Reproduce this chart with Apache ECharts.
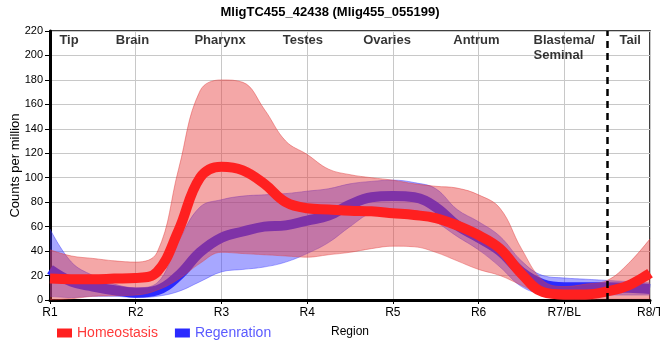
<!DOCTYPE html>
<html><head><meta charset="utf-8">
<script src="https://cdn.jsdelivr.net/npm/echarts@6/dist/echarts.min.js"></script>
<style>html,body{margin:0;padding:0;background:#fff}#c{width:660px;height:360px}</style>
</head><body><div id="c"></div>
<script>
// ---- data ----
const categories = ['R1','R2','R3','R4','R5','R6','R7/BL','R8/T'];
// values read at quarter steps along the region axis (R1 .. R8/T)
const samplePos = ['1','1.25','1.5','1.75','2','2.25','2.5','2.75','3','3.25','3.5','3.75','4','4.25','4.5','4.75',
                   '5','5.25','5.5','5.75','6','6.25','6.5','6.75','7','7.25','7.5','7.75','8'];
const homeoMean  = [17.5,17,17,17.5,18,23,57,100,109,106,95,80,75,74,73,72.5,71,69.5,67,61,53,42,21.5,6.5,4.5,4.5,7,12,22];
const homeoUpper = [41,36,34,32,31,39,107,171,180,178,156,130,119,107,102.5,100,98,95,93,91.5,86,75,42,16,11,13,16,30,50];
const homeoLower = [0,1,3,3.5,4,8,17,30,39,38,37,36,35,37,39,42,44,43.5,39,32,25,20,12,4,0.5,0.5,1,1,1];
const regenMean  = [25,15,11,8,6,8,20,39,51,56,60,61,65,69,78,84,85,84,76,61,51,40,23,13,10.5,10.5,10.5,10,9];
const regenUpper = [58,31,20,13,10,14,48,76,82,85,86,87,89,91,95,97,98,96,91,74,64,52,32,20,18,17,16,15,14];
const regenLower = [3,2,3,3,2,3,7,15,23,25,27,31,38,47,60,71,73,73,64,52,41,27,11,5,4,4,4,4,4];
const regionNames = ['Tip','Brain','Pharynx','Testes','Ovaries','Antrum','Blastema/\nSeminal','Tail'];
const yTicks = {min:0, max:220, step:20};
const boundaryAt = 7.5; // dashed divider between R7/BL and R8/T

// ---- layout (label anchors in region-axis units) ----
const regionLabelX = [1.228,1.968,2.990,3.957,4.938,5.980,6.647,7.775];
const regionLabelAlign = ['center','center','center','center','center','center','left','center'];

const FONT = 'Liberation Sans, Arial, sans-serif';
const diff = (a,b) => a.map((v,i)=>+(v-b[i]).toFixed(3));
const SM = 0.4;

const chart = echarts.init(document.getElementById('c'), null, {renderer:'canvas'});
chart.setOption({
  animation:false,
  textStyle:{fontFamily:FONT},
  title:{text:'MligTC455_42438 (Mlig455_055199)', left:'center', top:1,
    textStyle:{fontSize:13, fontWeight:'bold', color:'#000', fontFamily:FONT}},
  legend:{left:52, top:321, icon:'rect', itemWidth:15, itemHeight:9, itemGap:17,
    textStyle:{fontSize:14, fontFamily:FONT},
    data:[{name:'Homeostasis', textStyle:{color:'#ff3a3a'}},
          {name:'Regenration', textStyle:{color:'#5a5aff'}}]},
  grid:{left:50, right:10, top:31, bottom:60, containLabel:false, outerBoundsMode:'none',
    show:true, borderColor:'#000', borderWidth:1.5, backgroundColor:'#fff'},
  xAxis:[{type:'value', min:1, max:8, interval:1,
    axisLine:{show:true, onZero:false, lineStyle:{color:'#000', width:3}},
    axisTick:{show:true, length:4, lineStyle:{color:'#000', width:1}},
    axisLabel:{formatter:v=>categories[Math.round(v)-1]||'', color:'#000', fontSize:12, margin:7, fontFamily:FONT},
    splitLine:{show:true, lineStyle:{color:'#c8c8c8', width:1}},
    name:'Region', nameLocation:'middle', nameGap:26, nameMoveOverlap:false,
    nameTextStyle:{color:'#000', fontSize:12, fontFamily:FONT}},
   {type:'category', data:samplePos, boundaryGap:false, show:false, position:'bottom'}],
  yAxis:{type:'value', min:yTicks.min, max:yTicks.max, interval:yTicks.step,
    axisLine:{show:true, lineStyle:{color:'#000', width:3}},
    axisTick:{show:true, length:5, lineStyle:{color:'#000', width:1}},
    axisLabel:{color:'#000', fontSize:11, margin:7, fontFamily:FONT},
    splitLine:{show:true, lineStyle:{color:'#c8c8c8', width:1}},
    name:'Counts per million', nameLocation:'middle', nameGap:28, nameMoveOverlap:false,
    nameTextStyle:{color:'#000', fontSize:13, fontFamily:FONT}},
  series:[
    {name:'regenLow', type:'line', z:1, xAxisIndex:1, stack:'regen', data:regenLower, symbol:'none', smooth:SM, silent:true,
      lineStyle:{color:'rgba(60,60,255,0.4)', width:1}},
    {name:'regenBand', type:'line', z:1, xAxisIndex:1, stack:'regen', data:diff(regenUpper,regenLower), symbol:'none', smooth:SM, silent:true,
      lineStyle:{color:'rgba(60,60,255,0.45)', width:1}, areaStyle:{color:'rgba(60,60,255,0.45)', opacity:1}},
    {name:'Regenration', type:'line', z:2, xAxisIndex:1, data:regenMean, symbol:'none', smooth:SM,
      color:'#2a2aff', lineStyle:{color:'#2a2aff', width:10}},
    {name:'homeoLow', type:'line', z:3, xAxisIndex:1, stack:'homeo', data:homeoLower, symbol:'none', smooth:SM, silent:true,
      lineStyle:{color:'rgba(225,60,60,0.4)', width:1}},
    {name:'homeoBand', type:'line', z:3, xAxisIndex:1, stack:'homeo', data:diff(homeoUpper,homeoLower), symbol:'none', smooth:SM, silent:true,
      lineStyle:{color:'rgba(225,60,60,0.45)', width:1}, areaStyle:{color:'rgba(230,60,60,0.45)', opacity:1}},
    {name:'Homeostasis', type:'line', z:4, xAxisIndex:1, data:homeoMean, symbol:'none', smooth:SM,
      color:'#ff2020', lineStyle:{color:'#ff2020', width:10}},
    {name:'divider', type:'line', z:5, xAxisIndex:0, data:[], silent:true,
      markLine:{silent:true, symbol:'none', label:{show:false},
        lineStyle:{color:'#000', width:2.5, type:[7,5]},
        data:[{xAxis:boundaryAt}]}},
    {name:'regions', type:'scatter', xAxisIndex:0, symbol:'circle', symbolSize:1, silent:true, z:10,
      itemStyle:{color:'rgba(0,0,0,0)'},
      data:regionNames.map((n,i)=>({value:[regionLabelX[i], yTicks.max],
        label:{show:true, formatter:n, position:[0,2], align:regionLabelAlign[i], verticalAlign:'top',
          fontSize:13, fontWeight:'bold', color:'#000', lineHeight:15, fontFamily:FONT}}))}
  ]
});
</script></body></html>
